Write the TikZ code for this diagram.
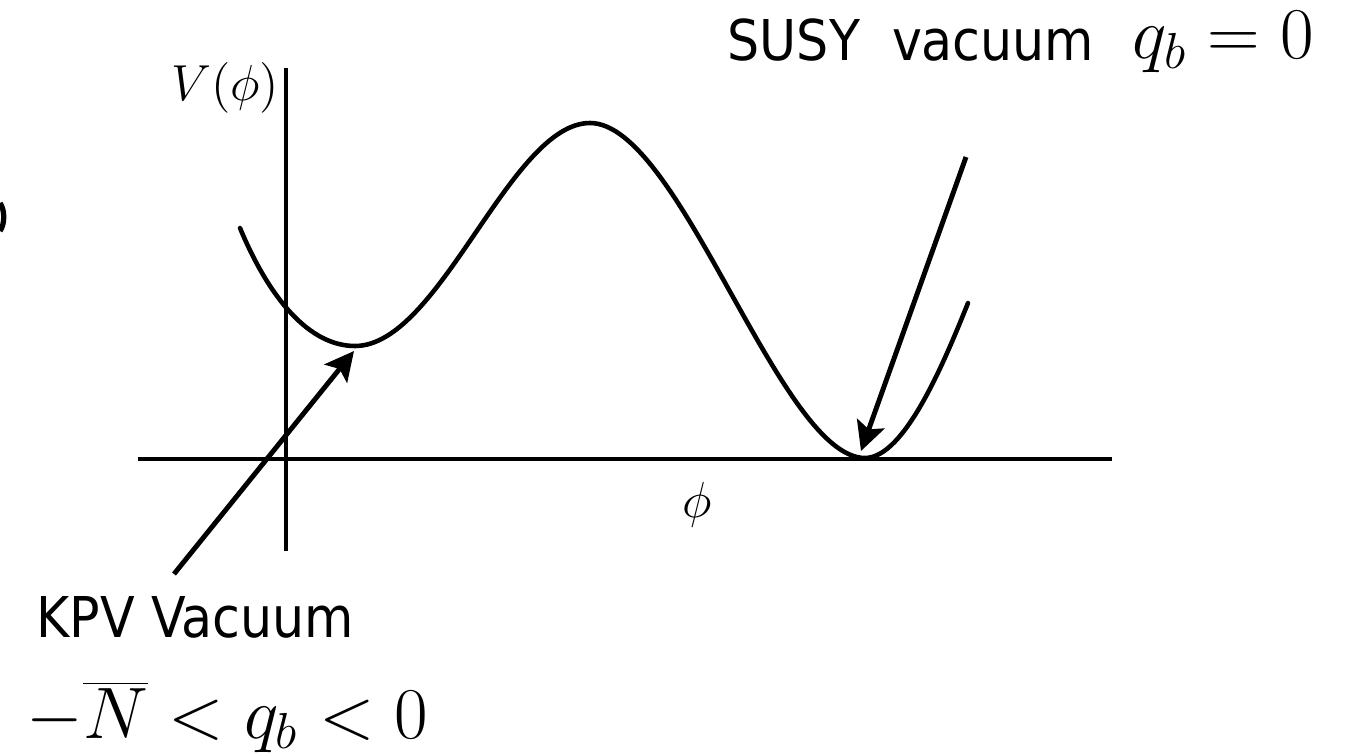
\documentclass[tikz,border=0pt]{standalone}
\usepackage{fontspec}
\newfontfamily\labelfont{DejaVu Sans Condensed}
\usetikzlibrary{arrows.meta}

\begin{document}
\begin{tikzpicture}[
x=0.01cm, y=-0.01cm,
axis/.style={line width=1.2pt},
potential/.style={line width=1.3pt, line cap=round},
arrow/.style={-{Stealth[length=2.9mm, width=2.9mm, inset=0.6mm]}, line width=1.4pt},
txt/.style={font=\labelfont\fontsize{16}{19}\selectfont, inner sep=0pt, anchor=base west},
bigmath/.style={font=\fontsize{19.5}{23}\selectfont, inner sep=0pt, anchor=base west},
axlabel/.style={font=\fontsize{14}{17}\selectfont, inner sep=0pt, anchor=base}
]
\useasboundingbox (0,0) rectangle (1351,754);

% axes
\coordinate (xl) at (138,459);
\coordinate (xr) at (1112,459);
\coordinate (yb) at (286,551);
\coordinate (yt) at (286,68);
\draw[axis] (xl) -- (xr);
\draw[axis] (yb) -- (yt);
\node[axlabel] (vlab) at (225,100) {$V(\phi)$};
\node[axlabel] (philab) at (697,517) {$\phi$};

% potential
\coordinate (kpv) at (355,346);
\coordinate (top) at (590,123);
\coordinate (susy) at (865,458);
\draw[potential] (240,228) .. controls (270,300) and (310,346) .. (kpv)
  .. controls (440,346) and (510,123) .. (top)
  .. controls (680,123) and (780,458) .. (susy)
  .. controls (905,458) and (945,360) .. (968,303);

% labels and arrows
\node[txt] (susytxt) at (727,60) {SUSY\ \ vacuum};
\node[bigmath] (susyq) at (1132,58) {$q_b = 0$};
\node[txt] (kpvtxt) at (36,637) {KPV Vacuum};
\node[bigmath] (kpvq) at (26,738) {$-\overline{N} < q_b < 0$};

\coordinate (kpvtail) at (174,574);
\coordinate (kpvtip) at (354,351);
\coordinate (susytail) at (966,157);
\coordinate (susytip) at (861,451);
\draw[arrow] (kpvtail) -- (kpvtip);
\draw[arrow] (susytail) -- (susytip);

% cut-off mark at left edge
\draw[line width=1.5pt] (0,203) .. controls (5,210) and (5,224) .. (0,231);
\end{tikzpicture}
\end{document}
